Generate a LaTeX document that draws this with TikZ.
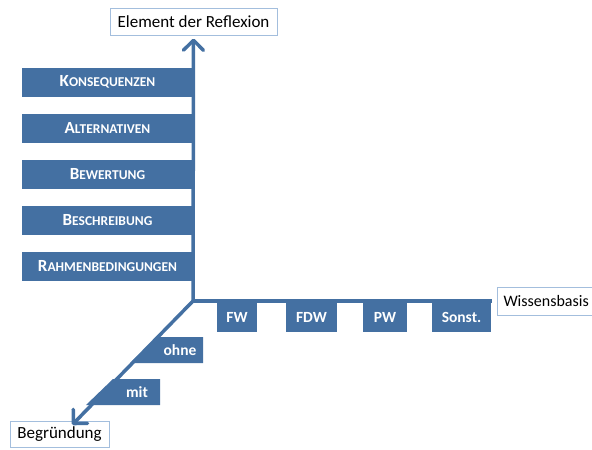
\documentclass[tikz,border=0pt]{standalone}
\usepackage{fontspec}
\setmainfont{Carlito}
\usetikzlibrary{arrows.meta}
\definecolor{barblue}{HTML}{4470A2}
\definecolor{boxline}{HTML}{A3BEDD}
\newcommand{\fsc}[2]{{\fontsize{17}{17}\selectfont #1}{\fontsize{13.5}{13.5}\selectfont #2}}
\begin{document}
\begin{tikzpicture}
        [
          x=1pt, y=-1pt,
          axis/.style={draw=barblue, line width=3.5pt},
          tip/.style={-{Straight Barb[length=10pt,width=20pt,line width=3.5pt,round]}},
          label/.style={draw=boxline, line width=1pt, fill=white, inner sep=0pt,
            font=\fontsize{17}{17}\selectfont},
          bar/.style={fill=barblue, text=white, inner sep=0pt, font=\bfseries},
          wbar/.style={bar, minimum height=30pt, font=\fontsize{15.5}{15.5}\selectfont\bfseries}
        ]
        \useasboundingbox (0,0) rectangle (592,450);
        % axis labels
        \node [label, minimum width=167pt, minimum height=27pt] (refl) at (193.5,21.5) {Element der Reflexion};
        \node [label, anchor=west, minimum width=110pt, minimum height=28pt, text width=98pt, align=left,
          font=\fontsize{16}{16}\selectfont] (wiss) at (497,301) {Wissensbasis};
        \node [label, minimum width=99pt, minimum height=26pt] (begr) at (59.5,434) {Begründung};
        \coordinate (o) at (193,301);
        % elements of reflection
        \foreach \y/\name/\a/\b in {82/kons/K/ONSEQUENZEN,128/alt/A/LTERNATIVEN,174/bew/B/EWERTUNG,
                                   220/besch/B/ESCHREIBUNG,266/rahm/R/AHMENBEDINGUNGEN} {
            \node [bar, minimum width=171pt, minimum height=29pt] (\name) at (107.5,\y) {\fsc{\a}{\b}};
        }
        % knowledge base
        \foreach \x/\w/\name/\t in {237/40/fw/FW,311.5/51/fdw/FDW,385/44/pw/PW,461.5/59/sonst/Sonst.} {
            \node [wbar, minimum width=\w pt] (\name) at (\x,317) {\t};
        }
        % reasoning
        \fill [barblue] (158,337) -- (203,337) -- (203,363) -- (130,363) -- cycle;
        \node [text=white, font=\fontsize{15.5}{15.5}\selectfont\bfseries] (ohne) at (180,350) {ohne};
        \fill [barblue] (113,379) -- (160,379) -- (160,405) -- (86,405) -- cycle;
        \node [text=white, font=\fontsize{15.5}{15.5}\selectfont\bfseries] (mit) at (137,392) {mit};
        % axes
        \draw [axis, tip] (o) -- ([yshift=-3pt]refl.south);
        \draw [axis] (o) -- ([xshift=-5pt]wiss.west);
        \draw [axis, tip, shorten >=1pt] (o) -- ([xshift=12pt,yshift=-5pt]begr.north);
      \end{tikzpicture}
\end{document}
